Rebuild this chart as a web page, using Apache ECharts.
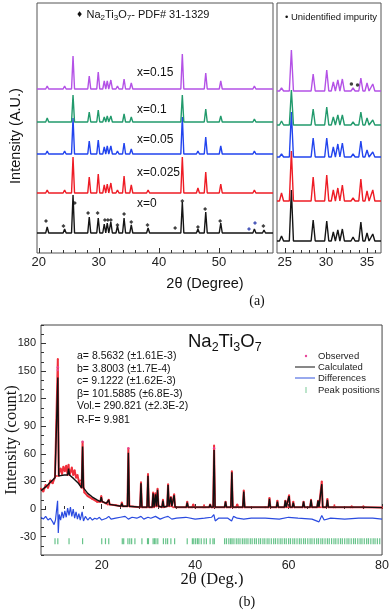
<!DOCTYPE html>
<html>
<head>
<meta charset="utf-8">
<script src="https://cdn.jsdelivr.net/npm/echarts@6/dist/echarts.min.js"></script>
<style>
  html, body { margin: 0; padding: 0; background: #fff; }
  #chart { width: 392px; height: 610px; }
</style>
</head>
<body>
<div id="chart"></div>
<script>
// ---------- (a) stacked XRD patterns (20-59 deg) ----------
const topPeakPos = [21.4, 24.3, 25.7, 28.4, 29.9, 30.9, 31.4, 32.0, 33.1, 34.2, 35.4, 38.2, 42.8, 43.9, 46.5, 47.8, 50.3, 55.9, 57.5];
const hX0    = [6, 4, 38, 16, 15, 9, 10, 11, 7, 15, 8, 5, 2, 31, 4, 21, 10, 4, 3];
const hX0025 = [3, 3, 36, 16, 19, 8, 9, 10, 3, 17, 8, 3, 2, 36, 5, 21, 9, 3, 2];
const hX005  = [3, 3, 36, 13, 14, 7, 8, 8, 3, 11, 5, 2, 1, 37, 3, 17, 8, 3, 2];
const hX01   = [4, 2, 27, 10, 12, 5, 6, 6, 2, 8, 5, 2, 1, 27, 2, 13, 6, 3, 2];
const hX015  = [3, 3, 33, 13, 17, 8, 8, 9, 3, 10, 6, 2, 1, 35, 2, 16, 8, 3, 2];
const baseLeft = [20, 60, 99, 131, 164];   // x=0, 0.025, 0.05, 0.1, 0.15

// zoomed panel (24-36.7 deg)
const zoomPeakPos = [24.6, 25.8, 28.45, 30.1, 30.9, 31.45, 32.0, 33.3, 34.25, 35.0, 35.7];
const zX0    = [5, 51, 21, 20, 9, 11, 12, 4, 19, 8, 7];
const zX0025 = [8, 50, 24, 26, 11, 13, 16, 3, 22, 10, 11];
const zX005  = [3, 45, 19, 19, 10, 13, 14, 3, 16, 7, 5];
const zX01   = [4, 35, 16, 18, 8, 10, 10, 3, 13, 7, 5];
const zX015  = [3, 41, 17, 21, 9, 11, 12, 3, 13, 8, 7];
const baseRight = [12, 52, 96, 128, 162];

const phaseMarks = [[21.2, 32], [24.1, 27], [26.0, 50], [28.2, 40], [29.8, 40], [31.0, 33], [31.5, 33], [32.0, 33],
  [33.1, 28], [34.2, 39], [35.4, 31], [38.1, 28], [42.7, 25], [43.9, 52], [46.5, 26], [47.7, 44], [50.2, 32], [57.4, 27]];
const phaseMarksBlue = [[55.0, 24], [56.0, 30]];
const impurityMarks = [[33.1, 169], [33.85, 168]];

const sampleNames = ['x=0', 'x=0.025', 'x=0.05', 'x=0.1', 'x=0.15'];
const sampleColors = ['#151515', '#ee1c25', '#2244ee', '#229a6c', '#b452e6'];

// ---------- (b) Rietveld refinement ----------
const rietPos  = [10.6, 12.9, 15.9, 19.9, 21.5, 24.3, 25.7, 28.4, 29.9, 31.0, 31.5, 31.95, 33.1, 34.2, 34.8, 35.5, 38.3, 39.6, 41.9, 43.2, 44.05,
  46.5, 47.85, 49.0, 50.4, 55.9, 57.6, 59.3, 60.1, 61.0, 63.2, 64.8, 66.3, 67.1, 68.3, 69.8, 73.5, 76.0];
const rietBase = [36, 37, 23, 8, 5, 3, 3, 2, 2, 2, 3, 3, 2, 3, 3, 2, 2, 2, 2, 2, 2,
  2, 2, 2, 2, 2, 2, 2, 2, 2, 2, 2, 2, 2, 2, 2, 2, 2];
const rietCalc = [143, 44, 68, 13, 10, 6, 61, 28, 36, 17, 16, 21, 9, 26, 13, 15, 7, 4, 4, 5, 64,
  8, 40, 4, 19, 11, 8, 9, 14, 7, 8, 10, 9, 27, 10, 4, 3, 3];
const rietObs  = [163, 48, 73, 14, 10, 7, 66, 29, 38, 18, 17, 22, 10, 27, 13, 16, 8, 5, 4, 5, 69,
  8, 41, 5, 20, 12, 9, 9, 15, 8, 8, 10, 9, 30, 11, 4, 3, 3];
const calcBg = [[7, 20], [8, 24], [9, 29], [10, 34], [11.2, 37], [12, 37], [13.4, 35], [14, 33], [15, 28], [16.3, 21], [17, 17],
  [18, 13], [19, 10], [21, 6], [23, 4], [26, 3], [30, 2], [40, 2], [55, 2], [70, 1.5], [80, 1.5]];
const obsBg = [[7, 22], [7.5, 19], [8, 26], [8.5, 23], [9, 31], [9.5, 28], [10, 35], [10.9, 40], [11.2, 44], [11.5, 38], [11.8, 46],
  [12.1, 41], [12.4, 47], [13.3, 40], [13.6, 45], [13.9, 37], [14.2, 42], [14.5, 34], [14.8, 37], [15.1, 30], [15.4, 31],
  [16.3, 18], [17, 14], [18, 11], [19, 8], [21, 6], [23, 4], [26, 3], [30, 2], [40, 2], [55, 2], [70, 1.5], [80, 1.5]];
const obsTopDots = [[10.6, 154], [10.6, 151], [15.9, 73], [25.7, 66], [44.05, 66]];
const diffPts = [[7, -9], [7.5, -11], [8, -8], [8.5, -12], [9, -10], [9.5, -14], [9.8, -17], [10.1, -12], [10.4, -14], [10.55, 9],
  [10.7, -26], [10.9, -6], [11.2, -12], [11.5, -3], [11.8, -10], [12.1, -2], [12.4, -9], [12.7, 1], [13, -7], [13.3, 2],
  [13.6, -8], [13.9, 0], [14.2, -10], [14.5, -3], [14.8, -11], [15.1, -5], [15.4, -12], [15.8, -3], [16.1, -13], [16.5, -8],
  [17, -12], [17.5, -9], [18, -12], [18.5, -10], [19, -11], [19.5, -9], [20, -12], [21, -10], [21.5, -8], [22, -11], [23, -10],
  [24, -9], [25, -8], [25.7, -11], [26.5, -9], [27.5, -10], [28.4, -8], [29, -11], [29.9, -9], [30.5, -10], [31.5, -8],
  [32.5, -11], [33.5, -9], [34.2, -8], [35, -11], [36, -10], [38, -9], [40, -11], [42, -10], [43.5, -9], [44, -6], [44.3, -13],
  [45, -10], [47, -10], [47.8, -13], [48.2, -8], [49, -10], [50.4, -11], [52, -10], [55, -10], [58, -11], [60, -9], [62, -10],
  [65, -11], [66.5, -14], [67.1, -7], [67.6, -12], [69, -10], [72, -11], [75, -10], [78, -10], [80, -11]];
const braggPos = [10.0, 10.6, 13.0, 15.9, 20.0, 20.8, 21.5, 24.4, 24.7, 25.6, 26.0, 26.4, 27.1, 28.6, 29.8, 30.0, 31.0, 31.3,
  31.6, 32.0, 33.2, 33.7, 34.1, 34.8, 35.6, 38.3, 39.4, 39.7, 40.1, 40.5, 40.8, 41.3, 41.9, 42.4, 43.2, 43.8, 44.1,
  46.3, 46.7, 47.2, 47.6, 47.9, 48.3, 48.8, 49.2, 49.6, 50.1, 50.5, 50.9, 51.3, 51.8, 52.2, 52.7, 53.1, 53.6, 54.0, 54.5,
  54.9, 55.4, 55.8, 56.3, 56.8, 57.2, 57.7, 58.2, 58.6, 59.1, 59.5, 60.0, 60.4, 60.9, 61.3, 61.8, 62.3, 62.7, 63.2, 63.6,
  64.1, 64.6, 65.0, 65.5, 66.0, 66.4, 66.9, 67.3, 67.8, 68.3, 68.7, 69.2, 69.7, 70.1, 70.6, 71.1, 71.5, 72.0, 72.5, 72.9,
  73.4, 73.9, 74.3, 74.8, 75.3, 75.7, 76.2, 76.7, 77.1, 77.6, 78.1, 78.5, 79.0, 79.5];
const braggLevel = -35;
const refineText = ['a= 8.5632 (±1.61E-3)', 'b= 3.8003 (±1.7E-4)', 'c= 9.1222 (±1.62E-3)',
  'β= 101.5885 (±6.8E-3)', 'Vol.= 290.821 (±2.3E-2)', 'R-F= 9.981'];

// peak list -> polyline vertices (baseline, apex, baseline)
function stackTrace(pos, h, base, x0, x1, hw) {
  const pts = [[x0, base]];
  pos.forEach((p, i) => { pts.push([p - hw, base], [p, base + h[i]], [p + hw, base]); });
  pts.push([x1, base]);
  return pts;
}
function rietLine(bg, top, hw) {
  const pts = bg.filter(p => !rietPos.some(c => Math.abs(p[0] - c) <= hw + 0.05));
  rietPos.forEach((c, i) => { pts.push([c - hw, rietBase[i]], [c, top[i]], [c + hw, rietBase[i]]); });
  pts.sort((a, b) => a[0] - b[0]);
  return pts;
}

const SANS = 'Arial, "Liberation Sans", sans-serif';
const SERIF = '"Times New Roman", "Liberation Serif", serif';
const range = (a, b, s, skip) => { const r = []; for (let v = a; v <= b + 1e-9; v += s) { const x = Math.round(v * 10) / 10; if (!skip.some(k => Math.abs(k - x) < 1e-6)) r.push(x); } return r; };

const leftH = [hX0, hX0025, hX005, hX01, hX015];
const rightH = [zX0, zX0025, zX005, zX01, zX015];

const series = [];
leftH.forEach((h, i) => series.push({
  type: 'line', xAxisIndex: 0, yAxisIndex: 0, symbol: 'none', z: 2 + i,
  data: stackTrace(topPeakPos, h, baseLeft[i], 19.7, 59.0, 0.25),
  lineStyle: { color: sampleColors[i], width: 1.4 }
}));
rightH.forEach((h, i) => series.push({
  type: 'line', xAxisIndex: 2, yAxisIndex: 1, symbol: 'none', z: 2 + i,
  data: stackTrace(zoomPeakPos, h, baseRight[i], 24.05, 36.7, 0.25),
  lineStyle: { color: sampleColors[i], width: 1.4 }
}));
series.push(
  { type: 'scatter', xAxisIndex: 0, yAxisIndex: 0, data: phaseMarks, symbol: 'diamond', symbolSize: 4, itemStyle: { color: '#111' }, z: 10 },
  { type: 'scatter', xAxisIndex: 0, yAxisIndex: 0, data: phaseMarksBlue, symbol: 'diamond', symbolSize: 4, itemStyle: { color: '#2233aa' }, z: 10 },
  { type: 'scatter', xAxisIndex: 2, yAxisIndex: 1, data: impurityMarks, symbol: 'circle', symbolSize: 3.5, itemStyle: { color: '#111' }, z: 10 },
  { type: 'line', xAxisIndex: 4, yAxisIndex: 2, data: rietLine(obsBg, rietObs, 0.2), symbol: 'circle', symbolSize: 2, showSymbol: true,
    itemStyle: { color: '#f0303c' }, lineStyle: { color: '#f0303c', width: 2 }, z: 2 },
  { type: 'scatter', xAxisIndex: 4, yAxisIndex: 2, data: obsTopDots, symbolSize: 2.5, itemStyle: { color: '#e8469a' }, z: 3 },
  { type: 'line', xAxisIndex: 4, yAxisIndex: 2, data: rietLine(calcBg, rietCalc, 0.2), symbol: 'none',
    lineStyle: { color: '#111', width: 1.4 }, z: 4 },
  { type: 'line', xAxisIndex: 4, yAxisIndex: 2, data: diffPts, symbol: 'none', lineStyle: { color: '#2a4be0', width: 1.2 }, z: 4 },
  { type: 'scatter', xAxisIndex: 4, yAxisIndex: 2, data: braggPos.map(p => [p, braggLevel]), symbol: 'rect', symbolSize: [1.2, 6],
    itemStyle: { color: '#4cb876', opacity: 0.85 }, z: 3 }
);

const majorX = (gi, min, max, ticks, labelSize, margin) => ({
  type: 'value', gridIndex: gi, min, max, position: 'bottom',
  axisLine: { show: false }, splitLine: { show: false },
  axisTick: { show: true, inside: true, length: 5, customValues: ticks, lineStyle: { color: '#333' } },
  axisLabel: { show: true, customValues: ticks, fontSize: labelSize, color: '#222', fontFamily: SANS, margin }
});
const minorX = (gi, min, max, ticks) => ({
  type: 'value', gridIndex: gi, min, max, position: 'bottom',
  axisLine: { show: false }, splitLine: { show: false }, axisLabel: { show: false },
  axisTick: { show: true, inside: true, length: 3, customValues: ticks, lineStyle: { color: '#333' } }
});
const hiddenY = gi => ({ type: 'value', gridIndex: gi, min: 0, max: 250, show: false });

const option = {
  animation: false,
  backgroundColor: '#fff',
  grid: [
    { left: 37, top: 3, width: 236, height: 250, show: true, borderColor: '#555', borderWidth: 1 },
    { left: 277, top: 3, width: 104, height: 250, show: true, borderColor: '#555', borderWidth: 1 },
    { left: 41, top: 325, width: 343, height: 230, show: true, borderColor: '#444', borderWidth: 1 }
  ],
  xAxis: [
    majorX(0, 19.7, 59.0, [20, 30, 40, 50], 13, 3),
    minorX(0, 19.7, 59.0, range(22, 58, 2, [30, 40, 50])),
    majorX(1, 24.05, 36.7, [25, 30, 35], 13, 3),
    minorX(1, 24.05, 36.7, range(25, 36, 1, [25, 30, 35])),
    majorX(2, 7, 80, [20, 40, 60, 80], 12.5, 4),
    minorX(2, 7, 80, range(8, 76, 4, [20, 40, 60, 80]))
  ],
  yAxis: [
    hiddenY(0),
    hiddenY(1),
    { type: 'value', gridIndex: 2, min: -50, max: 200, position: 'left',
      axisLine: { show: false }, splitLine: { show: false },
      axisTick: { show: true, inside: true, length: 5, customValues: [-30, 0, 30, 60, 90, 120, 150, 180], lineStyle: { color: '#333' } },
      axisLabel: { customValues: [-30, 0, 30, 60, 90, 120, 150, 180], fontSize: 11, color: '#222', fontFamily: SANS, margin: 5 } },
    { type: 'value', gridIndex: 2, min: -50, max: 200, position: 'left',
      axisLine: { show: false }, splitLine: { show: false }, axisLabel: { show: false },
      axisTick: { show: true, inside: true, length: 3, customValues: range(-50, 200, 10, [-30, 0, 30, 60, 90, 120, 150, 180]), lineStyle: { color: '#333' } } }
  ],
  series,
  graphic: [
    // panel (a)
    { type: 'text', x: 76, y: 15, style: { text: '{d|♦} {n|Na}{s|2}{n|Ti}{s|3}{n|O}{s|7}{n|- PDF# 31-1329}', fill: '#111', verticalAlign: 'middle',
      rich: { d: { fontSize: 8, fontFamily: 'DejaVu Sans' }, n: { fontSize: 11, fontFamily: SANS }, s: { fontSize: 8, fontFamily: SANS, padding: [6, 0, 0, 0] } } } },
    { type: 'text', x: 285, y: 17, style: { text: '• Unidentified impurity', fill: '#111', fontSize: 9.5, fontFamily: SANS, verticalAlign: 'middle' } },
    { type: 'text', x: 137, y: 73, style: { text: sampleNames[4], fill: '#111', fontSize: 12, fontFamily: SANS, verticalAlign: 'middle' } },
    { type: 'text', x: 137, y: 110, style: { text: sampleNames[3], fill: '#111', fontSize: 12, fontFamily: SANS, verticalAlign: 'middle' } },
    { type: 'text', x: 137, y: 140, style: { text: sampleNames[2], fill: '#111', fontSize: 12, fontFamily: SANS, verticalAlign: 'middle' } },
    { type: 'text', x: 137, y: 173, style: { text: sampleNames[1], fill: '#111', fontSize: 12, fontFamily: SANS, verticalAlign: 'middle' } },
    { type: 'text', x: 137, y: 204, style: { text: sampleNames[0], fill: '#111', fontSize: 12, fontFamily: SANS, verticalAlign: 'middle' } },
    { type: 'text', x: 16, y: 136, rotation: Math.PI / 2, style: { text: 'Intensity (A.U.)', fill: '#111', fontSize: 14.5, fontFamily: SANS, align: 'center', verticalAlign: 'middle' } },
    { type: 'text', x: 205, y: 284, style: { text: '2θ (Degree)', fill: '#111', fontSize: 14.5, fontFamily: SANS, align: 'center', verticalAlign: 'middle' } },
    { type: 'text', x: 257, y: 301, style: { text: '(a)', fill: '#111', fontSize: 14, fontFamily: SERIF, align: 'center', verticalAlign: 'middle' } },
    // panel (b)
    { type: 'text', x: 188, y: 342, style: { text: '{n|Na}{s|2}{n|Ti}{s|3}{n|O}{s|7}', fill: '#111', verticalAlign: 'middle',
      rich: { n: { fontSize: 18.5, fontFamily: SANS }, s: { fontSize: 12.5, fontFamily: SANS, padding: [12, 0, 0, 0] } } } },
    ...refineText.map((t, i) => ({ type: 'text', x: 77, y: [356, 369, 381, 394, 406.5, 420.5][i],
      style: { text: t, fill: '#111', fontSize: 10.5, fontFamily: SANS, verticalAlign: 'middle' } })),
    { type: 'circle', shape: { cx: 306, cy: 356, r: 1.2 }, style: { fill: '#e8469a' } },
    { type: 'line', shape: { x1: 295, y1: 367, x2: 315, y2: 367 }, style: { stroke: '#111', lineWidth: 1 } },
    { type: 'line', shape: { x1: 295, y1: 378, x2: 315, y2: 378 }, style: { stroke: '#3355dd', lineWidth: 1 } },
    { type: 'line', shape: { x1: 306, y1: 387, x2: 306, y2: 393 }, style: { stroke: '#8fd3a8', lineWidth: 1.2 } },
    ...['Observed', 'Calculated', 'Differences', 'Peak positions'].map((t, i) => ({ type: 'text', x: 318, y: [356, 367, 378, 390][i],
      style: { text: t, fill: '#222', fontSize: 9.5, fontFamily: SANS, verticalAlign: 'middle' } })),
    { type: 'text', x: 12, y: 440, rotation: Math.PI / 2, style: { text: 'Intensity (count)', fill: '#111', fontSize: 16.5, fontFamily: SERIF, align: 'center', verticalAlign: 'middle' } },
    { type: 'text', x: 212, y: 580, style: { text: '2θ (Deg.)', fill: '#111', fontSize: 16.5, fontFamily: SERIF, align: 'center', verticalAlign: 'middle' } },
    { type: 'text', x: 247, y: 602, style: { text: '(b)', fill: '#111', fontSize: 14, fontFamily: SERIF, align: 'center', verticalAlign: 'middle' } }
  ]
};

const chart = echarts.init(document.getElementById('chart'));
chart.setOption(option);
</script>
</body>
</html>
